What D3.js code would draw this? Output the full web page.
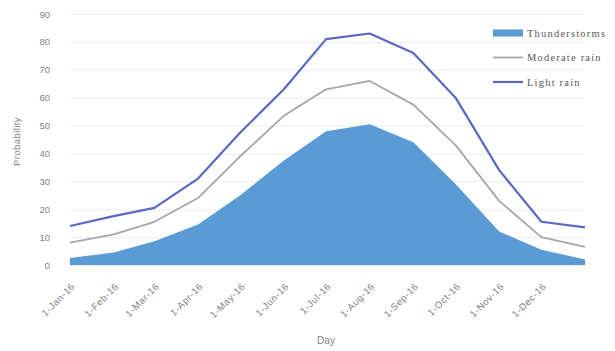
<!DOCTYPE html>
<html>
<head>
<meta charset="utf-8">
<script src="https://cdn.jsdelivr.net/npm/d3@7"></script>
<style>
  html, body { margin: 0; padding: 0; background: #ffffff; }
  svg { display: block; }
</style>
</head>
<body>
<svg id="chart" width="615" height="351" font-family="'Liberation Sans', Arial, sans-serif"></svg>
<script>
// Monthly sample dates (first of each month, through 1 Jan 2017)
const dates = [
  "2016-01-01", "2016-02-01", "2016-03-01", "2016-04-01", "2016-05-01", "2016-06-01",
  "2016-07-01", "2016-08-01", "2016-09-01", "2016-10-01", "2016-11-01", "2016-12-01",
  "2017-01-01"
];

// Probability of each kind of weather on that day
const thunderstorms = [2.5, 4.5, 8.5, 14.5, 25, 37.5, 48, 50.5, 44, 29, 12, 5.5, 2];
const moderateRain  = [8, 11, 15.5, 24, 39, 53.5, 63, 66, 57.5, 43, 23, 10, 6.5];
const lightRain     = [14, 17.5, 20.5, 31, 47.5, 63, 81, 83, 76, 60, 34, 15.5, 13.5];

// Axis ticks
const yTicks = [0, 10, 20, 30, 40, 50, 60, 70, 80, 90];
const xTickLabels = [
  "1-Jan-16", "1-Feb-16", "1-Mar-16", "1-Apr-16", "1-May-16", "1-Jun-16",
  "1-Jul-16", "1-Aug-16", "1-Sep-16", "1-Oct-16", "1-Nov-16", "1-Dec-16"
];

const seriesNames = ["Thunderstorms", "Moderate rain", "Light rain"];

const parse = d3.timeParse("%Y-%m-%d");
const xDates = dates.map(parse);
const tickDates = xDates.slice(0, xTickLabels.length);

const svg = d3.select("#chart");
const margin = { left: 70, right: 30, top: 14, bottom: 86 };
const W = 615, H = 351;

const x = d3.scaleTime()
  .domain([xDates[0], xDates[xDates.length - 1]])
  .range([margin.left, W - margin.right]);
const y = d3.scaleLinear()
  .domain([0, 90])
  .range([H - margin.bottom, margin.top]);

// Horizontal gridlines
svg.append("g")
  .selectAll("line")
  .data(yTicks)
  .join("line")
  .attr("x1", x.range()[0])
  .attr("x2", x.range()[1])
  .attr("y1", d => y(d) + 0.5)
  .attr("y2", d => y(d) + 0.5)
  .attr("stroke", "#ececec")
  .attr("stroke-width", 1);

// Y axis labels
const yAxis = d3.axisLeft(y).tickValues(yTicks).tickSize(0).tickPadding(0);
const yg = svg.append("g")
  .attr("transform", `translate(${margin.left - 20},0)`)
  .call(yAxis);
yg.select(".domain").remove();
yg.selectAll("text")
  .style("font-family", "'Liberation Sans', Arial, sans-serif")
  .style("font-size", "9.5px")
  .attr("fill", "#7f7f7f");

// X axis labels, rotated
const xAxis = d3.axisBottom(x)
  .tickValues(tickDates)
  .tickFormat((d, i) => xTickLabels[i])
  .tickSize(0)
  .tickPadding(0);
const xg = svg.append("g")
  .attr("transform", `translate(0,${y(0)})`)
  .call(xAxis);
xg.select(".domain").remove();
xg.selectAll("text")
  .style("font-family", "'Liberation Sans', Arial, sans-serif")
  .style("font-size", "9.5px")
  .style("letter-spacing", "0.6px")
  .attr("fill", "#7f7f7f")
  .attr("text-anchor", "end")
  .attr("dy", null)
  .attr("y", 0)
  .attr("transform", "translate(5,22) rotate(-45)");

// Thunderstorm area
const area = d3.area()
  .x((d, i) => x(xDates[i]))
  .y0(y(0))
  .y1(d => y(d));
svg.append("path")
  .datum(thunderstorms)
  .attr("d", area)
  .attr("fill", "#5b9bd5");

// Rain lines
const line = d3.line()
  .x((d, i) => x(xDates[i]))
  .y(d => y(d));
svg.append("path")
  .datum(moderateRain)
  .attr("d", line)
  .attr("fill", "none")
  .attr("stroke", "#a5a5ad")
  .attr("stroke-width", 1.8)
  .attr("stroke-linejoin", "round");
svg.append("path")
  .datum(lightRain)
  .attr("d", line)
  .attr("fill", "none")
  .attr("stroke", "#5a67c4")
  .attr("stroke-width", 2.2)
  .attr("stroke-linejoin", "round");

// Axis titles
svg.append("text")
  .attr("transform", `translate(20,${(y(0) + y(90)) / 2 + 2}) rotate(-90)`)
  .attr("text-anchor", "middle")
  .attr("fill", "#7f7f7f")
  .style("font-size", "9.5px")
  .style("letter-spacing", "0.4px")
  .text("Probability");
svg.append("text")
  .attr("x", 326)
  .attr("y", 344)
  .attr("text-anchor", "middle")
  .attr("fill", "#7f7f7f")
  .style("font-size", "10px")
  .text("Day");

// Legend
const legend = svg.append("g").attr("transform", "translate(493,33)");
const items = legend.selectAll("g")
  .data(seriesNames)
  .join("g")
  .attr("transform", (d, i) => `translate(0,${i * 24.5})`);
items.each(function (d, i) {
  const g = d3.select(this);
  if (i === 0) {
    g.append("rect").attr("x", 0).attr("y", -3.5).attr("width", 30).attr("height", 7).attr("fill", "#5b9bd5");
  } else {
    g.append("line").attr("x1", 0).attr("x2", 30).attr("y1", 0).attr("y2", 0)
      .attr("stroke", i === 1 ? "#a5a5ad" : "#5a67c4")
      .attr("stroke-width", i === 1 ? 1.8 : 2.2);
  }
  g.append("text")
    .attr("x", 34)
    .attr("y", 3.5)
    .style("font-family", "'Liberation Serif', 'DejaVu Serif', serif")
    .style("font-size", "10.5px")
    .style("letter-spacing", "1.2px")
    .attr("fill", "#595959")
    .text(d);
});
</script>
</body>
</html>
